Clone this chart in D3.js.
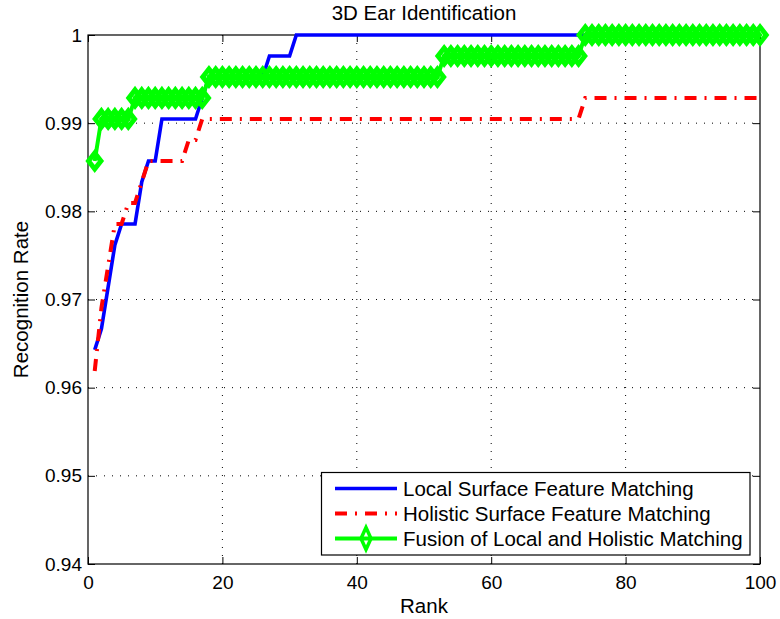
<!DOCTYPE html>
<html>
<head>
<meta charset="utf-8">
<script src="https://cdn.jsdelivr.net/npm/d3@7"></script>
<style>
  body { margin: 0; background: #fff; }
  text { font-family: "Liberation Sans", Arial, sans-serif; fill: #000; }
</style>
</head>
<body>
<div id="chart"></div>
<script>
// chart data (rank 1..100)
var ranks = d3.range(1, 101);

var localRates = [
  0.96429, 0.96667, 0.97143, 0.97619, 0.97857, 0.97857, 0.97857, 0.98333, 0.98571, 0.98571,
  0.99048, 0.99048, 0.99048, 0.99048, 0.99048, 0.99048, 0.99286, 0.99524, 0.99524, 0.99524,
  0.99524, 0.99524, 0.99524, 0.99524, 0.99524, 0.99524, 0.99762, 0.99762, 0.99762, 0.99762,
  1, 1, 1, 1, 1, 1, 1, 1, 1, 1,
  1, 1, 1, 1, 1, 1, 1, 1, 1, 1,
  1, 1, 1, 1, 1, 1, 1, 1, 1, 1,
  1, 1, 1, 1, 1, 1, 1, 1, 1, 1,
  1, 1, 1, 1, 1, 1, 1, 1, 1, 1,
  1, 1, 1, 1, 1, 1, 1, 1, 1, 1,
  1, 1, 1, 1, 1, 1, 1, 1, 1, 1
];

var holisticRates = [
  0.96190, 0.96905, 0.97381, 0.97857, 0.97857, 0.98095, 0.98095, 0.98333, 0.98571, 0.98571,
  0.98571, 0.98571, 0.98571, 0.98571, 0.98810, 0.98810, 0.99048, 0.99048, 0.99048, 0.99048,
  0.99048, 0.99048, 0.99048, 0.99048, 0.99048, 0.99048, 0.99048, 0.99048, 0.99048, 0.99048,
  0.99048, 0.99048, 0.99048, 0.99048, 0.99048, 0.99048, 0.99048, 0.99048, 0.99048, 0.99048,
  0.99048, 0.99048, 0.99048, 0.99048, 0.99048, 0.99048, 0.99048, 0.99048, 0.99048, 0.99048,
  0.99048, 0.99048, 0.99048, 0.99048, 0.99048, 0.99048, 0.99048, 0.99048, 0.99048, 0.99048,
  0.99048, 0.99048, 0.99048, 0.99048, 0.99048, 0.99048, 0.99048, 0.99048, 0.99048, 0.99048,
  0.99048, 0.99048, 0.99048, 0.99286, 0.99286, 0.99286, 0.99286, 0.99286, 0.99286, 0.99286,
  0.99286, 0.99286, 0.99286, 0.99286, 0.99286, 0.99286, 0.99286, 0.99286, 0.99286, 0.99286,
  0.99286, 0.99286, 0.99286, 0.99286, 0.99286, 0.99286, 0.99286, 0.99286, 0.99286, 0.99286
];

var fusionRates = [
  0.98571, 0.99048, 0.99048, 0.99048, 0.99048, 0.99048, 0.99286, 0.99286, 0.99286, 0.99286,
  0.99286, 0.99286, 0.99286, 0.99286, 0.99286, 0.99286, 0.99286, 0.99524, 0.99524, 0.99524,
  0.99524, 0.99524, 0.99524, 0.99524, 0.99524, 0.99524, 0.99524, 0.99524, 0.99524, 0.99524,
  0.99524, 0.99524, 0.99524, 0.99524, 0.99524, 0.99524, 0.99524, 0.99524, 0.99524, 0.99524,
  0.99524, 0.99524, 0.99524, 0.99524, 0.99524, 0.99524, 0.99524, 0.99524, 0.99524, 0.99524,
  0.99524, 0.99524, 0.99762, 0.99762, 0.99762, 0.99762, 0.99762, 0.99762, 0.99762, 0.99762,
  0.99762, 0.99762, 0.99762, 0.99762, 0.99762, 0.99762, 0.99762, 0.99762, 0.99762, 0.99762,
  0.99762, 0.99762, 0.99762, 1, 1, 1, 1, 1, 1, 1,
  1, 1, 1, 1, 1, 1, 1, 1, 1, 1,
  1, 1, 1, 1, 1, 1, 1, 1, 1, 1
];

var seriesNames = ["Local Surface Feature Matching", "Holistic Surface Feature Matching", "Fusion of Local and Holistic Matching"];
var xTicks = [0, 20, 40, 60, 80, 100];
var yTicks = [0.94, 0.95, 0.96, 0.97, 0.98, 0.99, 1];
var yTickLabels = ["0.94", "0.95", "0.96", "0.97", "0.98", "0.99", "1"];

// dimensions (plot box edges in pixels)
var width = 780,
    height = 619,
    plotLeft = 88, plotRight = 760, plotTop = 35, plotBottom = 564;

var svg = d3.select("#chart")
  .append("svg")
    .attr("width", width)
    .attr("height", height);

var x = d3.scaleLinear().domain([0, 100]).range([plotLeft, plotRight]);
var y = d3.scaleLinear().domain([0.94, 1]).range([plotBottom, plotTop]);

// dotted grid
svg.append("g")
  .selectAll("line")
  .data(xTicks.slice(1, -1))
  .enter().append("line")
    .attr("x1", d => x(d)).attr("x2", d => x(d))
    .attr("y1", plotTop).attr("y2", plotBottom)
    .attr("stroke", "#000").attr("stroke-width", 1)
    .attr("stroke-dasharray", "1,7");
svg.append("g")
  .selectAll("line")
  .data(yTicks.slice(1, -1))
  .enter().append("line")
    .attr("x1", plotLeft).attr("x2", plotRight)
    .attr("y1", d => y(d)).attr("y2", d => y(d))
    .attr("stroke", "#000").attr("stroke-width", 1)
    .attr("stroke-dasharray", "1,7");

// axes, ticks pointing inside
function styleAxis(g) {
  g.select(".domain").remove();
  g.selectAll(".tick line").attr("stroke", "#000").attr("stroke-width", 1);
  g.selectAll(".tick text").style("font-size", "19px").attr("fill", "#000")
    .style("font-family", "'Liberation Sans', Arial, sans-serif");
}

svg.append("g")
  .attr("transform", "translate(0," + plotBottom + ")")
  .call(d3.axisBottom(x).tickValues(xTicks).tickSize(-7).tickPadding(12))
  .call(styleAxis);
svg.append("g")
  .attr("transform", "translate(0," + plotTop + ")")
  .call(d3.axisTop(x).tickValues(xTicks).tickSize(-7).tickFormat(""))
  .call(styleAxis);
svg.append("g")
  .attr("transform", "translate(" + plotLeft + ",0)")
  .call(d3.axisLeft(y).tickValues(yTicks).tickSize(-7).tickPadding(6)
    .tickFormat((d, i) => yTickLabels[i]))
  .call(styleAxis);
svg.append("g")
  .attr("transform", "translate(" + plotRight + ",0)")
  .call(d3.axisRight(y).tickValues(yTicks).tickSize(-7).tickFormat(""))
  .call(styleAxis);

svg.append("rect")
  .attr("x", plotLeft).attr("y", plotTop)
  .attr("width", plotRight - plotLeft).attr("height", plotBottom - plotTop)
  .attr("fill", "none").attr("stroke", "#000").attr("stroke-width", 1.2);

// lines
var line = d3.line()
  .x(d => x(d[0]))
  .y(d => y(d[1]));

svg.append("path")
  .datum(d3.zip(ranks, localRates))
  .attr("d", line)
  .attr("fill", "none").attr("stroke", "#0000ff").attr("stroke-width", 3.6);

svg.append("path")
  .datum(d3.zip(ranks, holisticRates))
  .attr("d", line)
  .attr("fill", "none").attr("stroke", "#ff0000").attr("stroke-width", 4)
  .attr("stroke-dasharray", "12,8,2,8");

svg.append("path")
  .datum(d3.zip(ranks, fusionRates))
  .attr("d", line)
  .attr("fill", "none").attr("stroke", "#00ff00").attr("stroke-width", 4);

// hollow diamond markers, very thick outline
var diamond = "M0,-8L6.2,0L0,8L-6.2,0Z";
svg.append("g")
  .selectAll("path")
  .data(d3.zip(ranks, fusionRates))
  .enter().append("path")
    .attr("d", diamond)
    .attr("transform", d => "translate(" + x(d[0]) + "," + y(d[1]) + ")")
    .attr("fill", "none").attr("stroke", "#00ff00").attr("stroke-width", 5)
    .attr("stroke-linejoin", "miter");

// labels
svg.append("text")
  .attr("x", (plotLeft + plotRight) / 2).attr("y", 20)
  .attr("text-anchor", "middle")
  .style("font-size", "20.5px")
  .text("3D Ear Identification");

svg.append("text")
  .attr("x", (plotLeft + plotRight) / 2).attr("y", 613)
  .attr("text-anchor", "middle")
  .style("font-size", "20.5px")
  .text("Rank");

svg.append("text")
  .attr("transform", "translate(28," + (plotTop + plotBottom) / 2 + ") rotate(-90)")
  .attr("text-anchor", "middle")
  .style("font-size", "20.5px")
  .text("Recognition Rate");

// legend
var legend = svg.append("g");
legend.append("rect")
  .attr("x", 321.5).attr("y", 472.5)
  .attr("width", 428.5).attr("height", 82.5)
  .attr("fill", "#fff").attr("stroke", "#000").attr("stroke-width", 1.2);

var legendStyles = [
  {color: "#0000ff", dash: null, w: 3.6, marker: false},
  {color: "#ff0000", dash: "12,8,2,8", w: 4, marker: false},
  {color: "#00ff00", dash: null, w: 4, marker: true}
];

seriesNames.forEach(function(name, i) {
  var cy = 488.5 + i * 25;
  var s = legendStyles[i];
  legend.append("line")
    .attr("x1", 335).attr("x2", 397)
    .attr("y1", cy).attr("y2", cy)
    .attr("stroke", s.color).attr("stroke-width", s.w)
    .attr("stroke-dasharray", s.dash);
  if (s.marker) {
    legend.append("path")
      .attr("d", "M0,-11L5,0L0,11L-5,0Z")
      .attr("transform", "translate(366," + cy + ")")
      .attr("fill", "none").attr("stroke", s.color).attr("stroke-width", 3.5);
  }
  legend.append("text")
    .attr("x", 403).attr("y", cy + 7)
    .style("font-size", "20.5px")
    .text(name);
});
</script>
</body>
</html>
